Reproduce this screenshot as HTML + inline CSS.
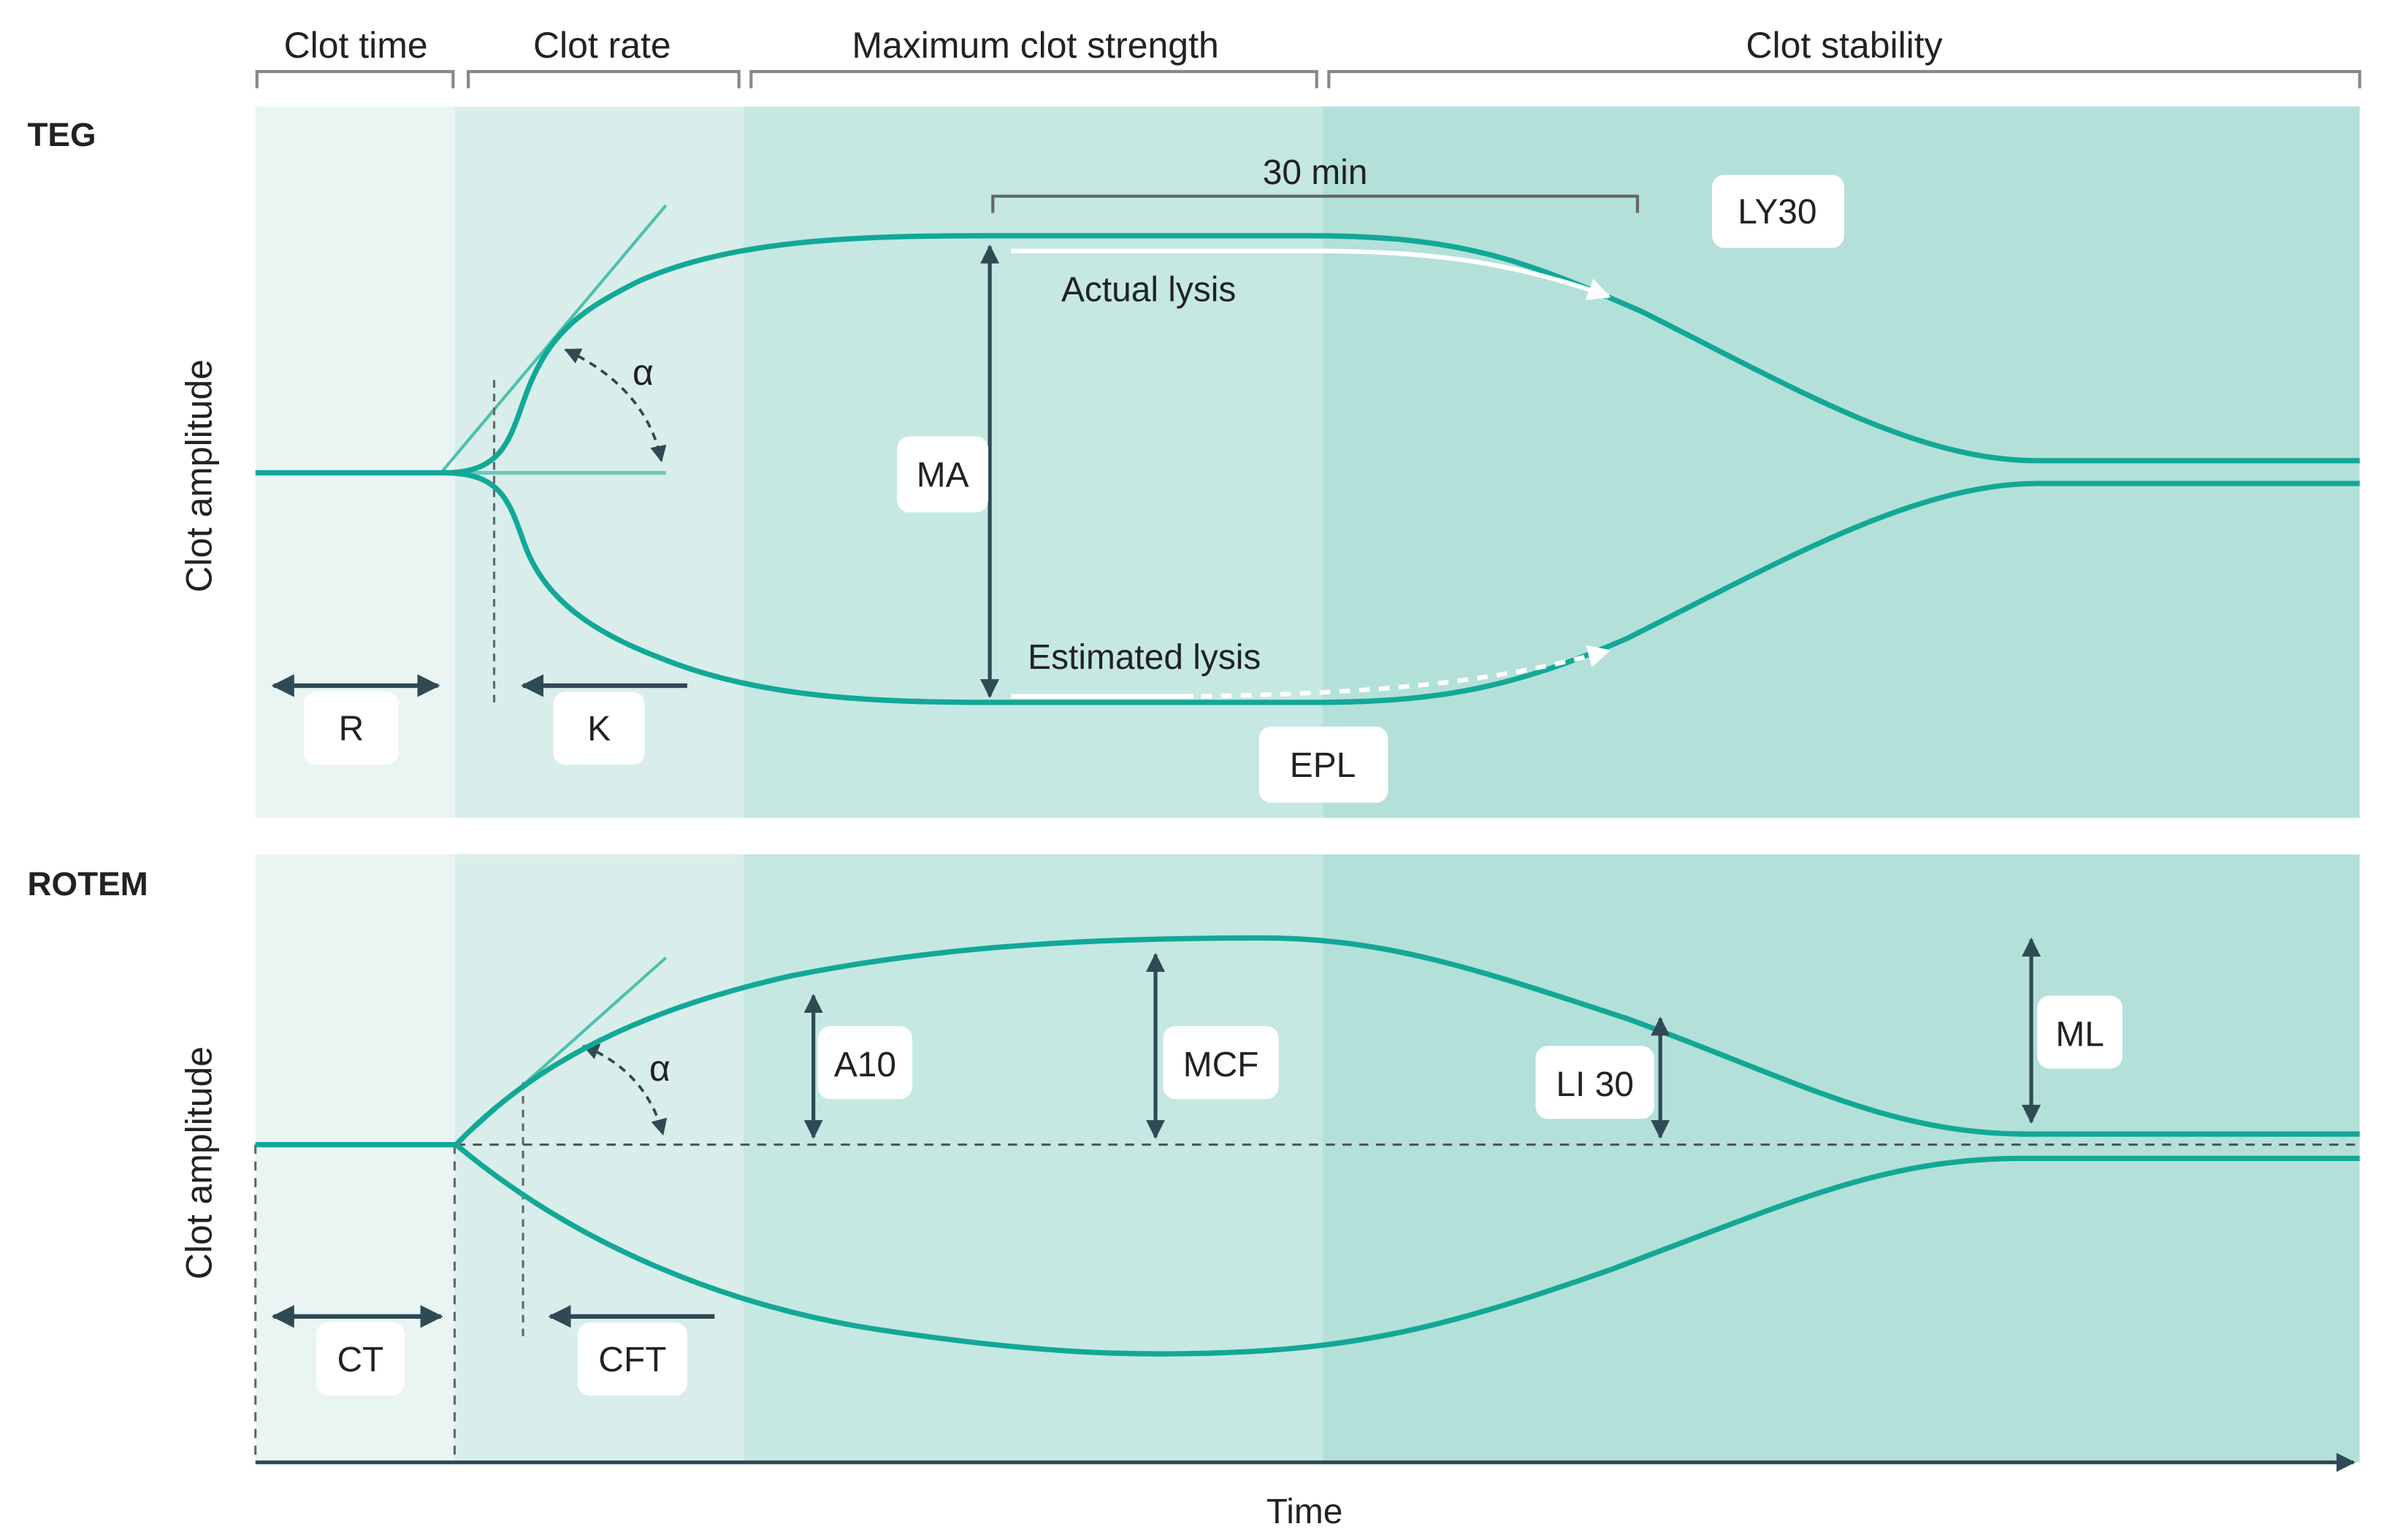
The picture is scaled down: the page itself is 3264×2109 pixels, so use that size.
<!DOCTYPE html>
<html><head><meta charset="utf-8"><style>
html,body{margin:0;padding:0;background:#fff;}
svg{display:block;}
text{font-family:"Liberation Sans",sans-serif;fill:#222;}
</style></head><body>
<svg width="3264" height="2109" viewBox="0 0 1568 1013" xmlns="http://www.w3.org/2000/svg">
<defs>
<marker id="ah" viewBox="0 0 10 10" refX="9" refY="5" markerWidth="5" markerHeight="5" orient="auto-start-reverse"><path d="M0,0 L10,5 L0,10 z" fill="#2f4a55"/></marker>
<marker id="aw" viewBox="0 0 10 10" refX="9" refY="5" markerWidth="5" markerHeight="5" orient="auto"><path d="M0,0 L10,5 L0,10 z" fill="#fff"/></marker>
<marker id="ad" viewBox="0 0 10 10" refX="9" refY="5" markerWidth="6" markerHeight="6" orient="auto-start-reverse"><path d="M0,0 L10,5 L0,10 z" fill="#2f4a55"/></marker>
</defs>
<g font-size="24" text-anchor="middle">
<text x="234" y="38">Clot time</text>
<text x="396" y="38">Clot rate</text>
<text x="681" y="38">Maximum clot strength</text>
<text x="1213" y="38">Clot stability</text>
</g>
<g fill="none" stroke="#888" stroke-width="2">
<path d="M169,58 V47 H298 V58"/><path d="M308,58 V47 H486 V58"/><path d="M494,58 V47 H866 V58"/><path d="M874,58 V47 H1552 V58"/>
</g>
<text x="18" y="96" font-size="22" font-weight="bold">TEG</text>
<text x="18" y="589" font-size="22" font-weight="bold">ROTEM</text>
<g>
<rect x="168" y="70" width="131" height="468" fill="#eaf5f3"/>
<rect x="299" y="70" width="190" height="468" fill="#d9eeea"/>
<rect x="489" y="70" width="381" height="468" fill="#c5e8e3"/>
<rect x="870" y="70" width="682" height="468" fill="#b4e0da"/>
<rect x="168" y="562" width="131" height="400" fill="#eaf5f3"/>
<rect x="299" y="562" width="190" height="400" fill="#d9eeea"/>
<rect x="489" y="562" width="381" height="400" fill="#c5e8e3"/>
<rect x="870" y="562" width="682" height="400" fill="#b4e0da"/>
</g>
<text transform="translate(139,313) rotate(-90)" font-size="24" text-anchor="middle">Clot amplitude</text>
<text transform="translate(139,765) rotate(-90)" font-size="24" text-anchor="middle">Clot amplitude</text>

<line x1="290" y1="311" x2="438" y2="135" stroke="#4fbfb0" stroke-width="2"/>
<line x1="292" y1="311" x2="438" y2="311" stroke="#6cc8bb" stroke-width="2.5"/>
<line x1="325" y1="250" x2="325" y2="466" stroke="#666" stroke-width="1.5" stroke-dasharray="5,4"/>
<path d="M372,230 Q425,255 435,303" fill="none" stroke="#2f4a55" stroke-width="1.8" stroke-dasharray="5,4" marker-start="url(#ad)" marker-end="url(#ad)"/>
<text x="416" y="253" font-size="24">α</text>
<g fill="none" stroke="#12a896" stroke-width="3.5">
<path d="M168,311 H292 C330,311 335,290 345,262 C360,220 380,205 420,185 C480,158 560,155 650,155 H860 C960,155 1000,170 1080,205 C1180,255 1260,303 1340,303 H1552"/>
<path d="M292,311 C330,311 335,330 345,358 C360,400 400,420 440,435 C500,458 570,462 650,462 H860 C940,462 990,455 1070,420 C1170,370 1260,318 1340,318 H1552"/>
</g>
<path d="M665,165 H860 C930,165 990,170 1058,195" fill="none" stroke="#fff" stroke-width="3" marker-end="url(#aw)"/>
<path d="M665,458 H785" fill="none" stroke="#fff" stroke-width="3"/>
<path d="M790,458 C900,456 980,450 1058,428" fill="none" stroke="#fff" stroke-width="3" stroke-dasharray="7,6" marker-end="url(#aw)"/>
<text x="698" y="198" font-size="23">Actual lysis</text>
<text x="676" y="440" font-size="23">Estimated lysis</text>
<line x1="651" y1="162" x2="651" y2="458" stroke="#2f4a55" stroke-width="2.5" marker-start="url(#ah)" marker-end="url(#ah)"/>
<path d="M653,140 V129 H1077 V140" fill="none" stroke="#666" stroke-width="2"/>
<text x="865" y="121" font-size="23" text-anchor="middle">30 min</text>
<line x1="180" y1="451" x2="288" y2="451" stroke="#2f4a55" stroke-width="3" marker-start="url(#ah)" marker-end="url(#ah)"/>
<line x1="452" y1="451" x2="344" y2="451" stroke="#2f4a55" stroke-width="3" marker-end="url(#ah)"/>
<g fill="#fff">
<rect x="590" y="287" width="60" height="50" rx="8"/>
<rect x="1126" y="115" width="87" height="48" rx="8"/>
<rect x="828" y="478" width="85" height="50" rx="8"/>
<rect x="200" y="455" width="62" height="48" rx="8"/>
<rect x="364" y="455" width="60" height="48" rx="8"/>
</g>
<g font-size="23" text-anchor="middle">
<text x="620" y="320">MA</text>
<text x="1169" y="147">LY30</text>
<text x="870" y="511">EPL</text>
<text x="231" y="487">R</text>
<text x="394" y="487">K</text>
</g>

<line x1="168" y1="753" x2="1552" y2="753" stroke="#555" stroke-width="1.5" stroke-dasharray="6,5"/>
<line x1="168" y1="753" x2="168" y2="962" stroke="#666" stroke-width="1.5" stroke-dasharray="6,5"/>
<line x1="299" y1="753" x2="299" y2="962" stroke="#666" stroke-width="1.5" stroke-dasharray="6,5"/>
<line x1="300" y1="753" x2="438" y2="630" stroke="#4fbfb0" stroke-width="2"/>
<line x1="344" y1="712" x2="344" y2="880" stroke="#666" stroke-width="1.5" stroke-dasharray="5,4"/>
<path d="M384,688 Q425,705 436,746" fill="none" stroke="#2f4a55" stroke-width="1.8" stroke-dasharray="5,4" marker-start="url(#ad)" marker-end="url(#ad)"/>
<text x="427" y="711" font-size="24">α</text>
<g fill="none" stroke="#12a896" stroke-width="3.5">
<path d="M168,753 H300 C360,690 440,660 520,642 C620,622 720,617 830,617 C910,617 970,637 1070,670 C1180,710 1240,745 1330,746 H1552"/>
<path d="M300,753 C380,820 480,860 580,875 C680,890 740,892 800,890 C900,887 960,870 1060,835 C1180,790 1240,762 1330,762 H1552"/>
</g>
<g stroke="#2f4a55" stroke-width="2.5">
<line x1="535" y1="655" x2="535" y2="748" marker-start="url(#ah)" marker-end="url(#ah)"/>
<line x1="760" y1="628" x2="760" y2="748" marker-start="url(#ah)" marker-end="url(#ah)"/>
<line x1="1092" y1="670" x2="1092" y2="748" marker-start="url(#ah)" marker-end="url(#ah)"/>
<line x1="1336" y1="618" x2="1336" y2="738" marker-start="url(#ah)" marker-end="url(#ah)"/>
</g>
<line x1="180" y1="866" x2="290" y2="866" stroke="#2f4a55" stroke-width="3" marker-start="url(#ah)" marker-end="url(#ah)"/>
<line x1="470" y1="866" x2="362" y2="866" stroke="#2f4a55" stroke-width="3" marker-end="url(#ah)"/>
<g fill="#fff">
<rect x="538" y="675" width="62" height="48" rx="8"/>
<rect x="765" y="675" width="76" height="48" rx="8"/>
<rect x="1010" y="688" width="78" height="48" rx="8"/>
<rect x="1340" y="655" width="56" height="48" rx="8"/>
<rect x="208" y="870" width="58" height="48" rx="8"/>
<rect x="380" y="870" width="72" height="48" rx="8"/>
</g>
<g font-size="23" text-anchor="middle">
<text x="569" y="708">A10</text>
<text x="803" y="708">MCF</text>
<text x="1049" y="721">LI 30</text>
<text x="1368" y="688">ML</text>
<text x="237" y="902">CT</text>
<text x="416" y="902">CFT</text>
</g>
<line x1="168" y1="962" x2="1548" y2="962" stroke="#2f4a55" stroke-width="2.5" marker-end="url(#ah)"/>
<text x="858" y="1002" font-size="23" text-anchor="middle">Time</text>
</svg>
</body></html>
